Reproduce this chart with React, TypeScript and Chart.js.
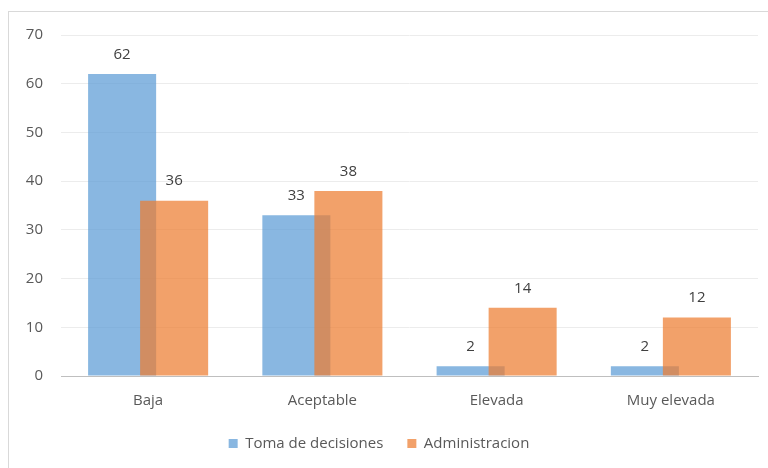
import React, { useEffect, useRef } from "react";
import { Chart, registerables } from "chart.js";

Chart.register(...registerables);

const categories = ["Baja", "Aceptable", "Elevada", "Muy elevada"];
const tomaDecisiones = [62, 33, 2, 2];
const administracion = [36, 38, 14, 12];
const seriesNames = ["Toma de decisiones", "Administracion"];
const yTicksMax = 70;
const yTickStep = 10;

const FONT = "'Open Sans', 'Noto Sans', sans-serif";

const valueLabels = {
  id: "valueLabels",
  afterDraw(chart: any) {
    const ctx = chart.ctx;
    ctx.save();
    ctx.font = `15px ${FONT}`;
    ctx.fillStyle = "#404040";
    ctx.textAlign = "center";
    ctx.textBaseline = "bottom";
    chart.data.datasets.forEach((ds: any, i: number) => {
      const meta = chart.getDatasetMeta(i);
      meta.data.forEach((el: any, j: number) => {
        ctx.fillText(String(ds.data[j]), el.x, el.y - 12);
      });
    });
    ctx.restore();
  },
};

// draw the second series above the first one (as in the reference)
const overlayOrder = {
  id: "overlayOrder",
  beforeDatasetDraw(chart: any, args: any) {
    if (args.index === 1) return false;
    return true;
  },
  afterDatasetsDraw(chart: any) {
    const meta = chart.getDatasetMeta(1);
    if (!meta || meta.hidden) return;
    const ctx = chart.ctx;
    ctx.save();
    meta.data.forEach((el: any) => el.draw(ctx));
    ctx.restore();
  },
};

export default function App() {
  const ref = useRef<HTMLCanvasElement | null>(null);

  useEffect(() => {
    if (!ref.current) return;
    const chart = new Chart(ref.current, {
      type: "bar",
      data: {
        labels: categories,
        datasets: [
          {
            label: seriesNames[0],
            data: tomaDecisiones,
            backgroundColor: "rgba(91,155,213,0.72)",
            borderWidth: 0,
            categoryPercentage: 0.597,
            barPercentage: 1.308,
          },
          {
            label: seriesNames[1],
            data: administracion,
            backgroundColor: "rgba(237,125,49,0.72)",
            borderWidth: 0,
            categoryPercentage: 0.597,
            barPercentage: 1.308,
          },
        ],
      },
      options: {
        animation: false,
        responsive: false,
        maintainAspectRatio: false,
        layout: { padding: { top: 35, right: 10, bottom: 16, left: 0 } },
        plugins: {
          tooltip: { enabled: false },
          legend: {
            position: "bottom",
            maxHeight: 40,
            labels: {
              boxWidth: 9,
              boxHeight: 9,
              padding: 24,
              color: "#595959",
              font: { family: FONT, size: 15 },
            },
          },
        },
        scales: {
          x: {
            grid: { display: false, drawTicks: false },
            border: { display: true, color: "#bfbfbf", width: 1 },
            ticks: {
              color: "#595959",
              padding: 16,
              font: { family: FONT, size: 15 },
            },
            afterFit: (s: any) => {
              s.height = 36;
            },
          },
          y: {
            min: 0,
            max: yTicksMax,
            ticks: {
              stepSize: yTickStep,
              color: "#595959",
              padding: 18,
              font: { family: FONT, size: 15 },
            },
            grid: { color: "#ececec", drawTicks: false },
            border: { display: false },
            afterFit: (s: any) => {
              s.width = 61;
            },
          },
        },
      },
      plugins: [overlayOrder, valueLabels],
    });
    return () => chart.destroy();
  }, []);

  return (
    <div
      style={{
        position: "absolute",
        left: 0,
        top: 0,
        width: 768,
        height: 468,
        background: "#ffffff",
        overflow: "hidden",
      }}
    >
      <div
        style={{
          position: "absolute",
          left: 8,
          top: 11,
          right: -2,
          bottom: -2,
          borderLeft: "1px solid #d9d9d9",
          borderTop: "1px solid #d9d9d9",
        }}
      />
      <canvas
        ref={ref}
        width={768}
        height={468}
        style={{ position: "absolute", left: 0, top: 0, width: 768, height: 468 }}
      />
    </div>
  );
}
